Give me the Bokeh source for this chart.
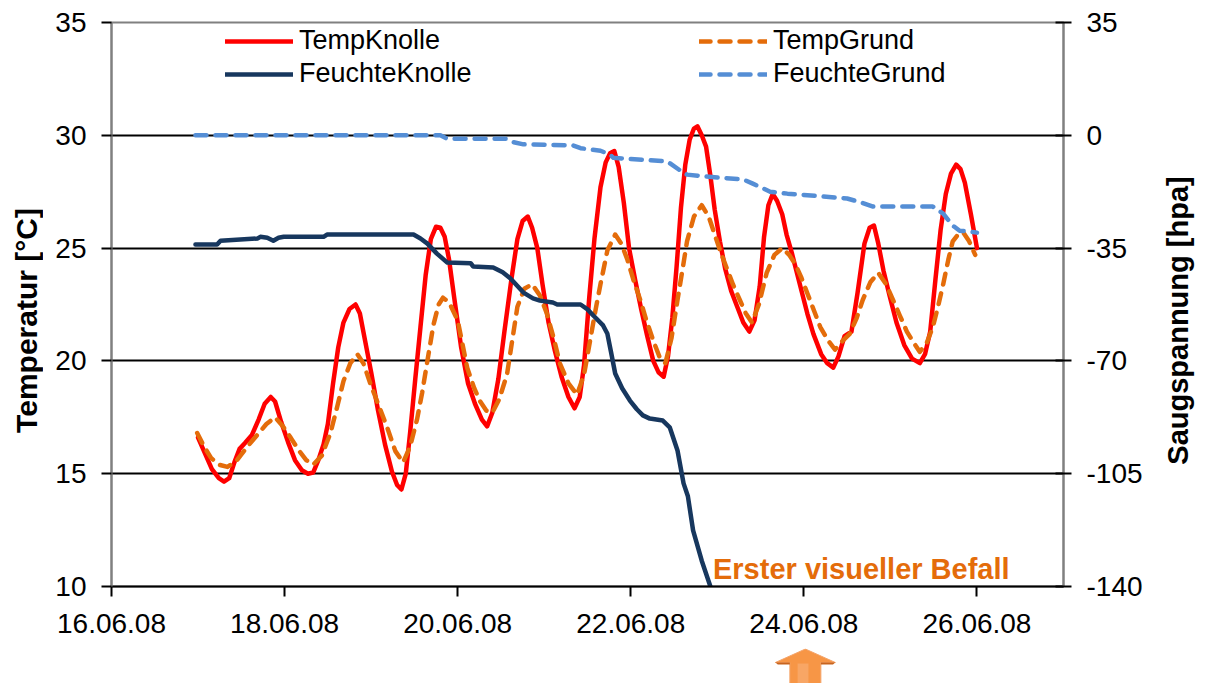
import math
import pandas as pd
from bokeh.plotting import figure
from bokeh.layouts import column, row
from bokeh.core.properties import value
from bokeh.models import (Range1d, LinearAxis, FixedTicker, DatetimeTickFormatter,
                          Legend, LegendItem)
from bokeh.embed import file_html
from bokeh.resources import INLINE

# ---------------- data (days since 16.06.08 00:00, value) ----------------
START = "2008-06-16"

temp_knolle = [
    (1.00, 16.6), (1.08, 15.9), (1.16, 15.2), (1.24, 14.8), (1.30, 14.65), (1.36, 14.8),
    (1.42, 15.5), (1.48, 16.1), (1.54, 16.35), (1.62, 16.7), (1.70, 17.4), (1.77, 18.1),
    (1.84, 18.4), (1.89, 18.2), (1.96, 17.3), (2.04, 16.4), (2.12, 15.6), (2.20, 15.15),
    (2.27, 15.0), (2.33, 15.05), (2.39, 15.6), (2.45, 16.3), (2.50, 17.2), (2.56, 19.0),
    (2.62, 20.6), (2.68, 21.7), (2.75, 22.3), (2.82, 22.5), (2.87, 22.1), (2.93, 20.9),
    (3.00, 19.5), (3.08, 17.8), (3.16, 16.3), (3.24, 15.1), (3.30, 14.5), (3.35, 14.3),
    (3.40, 15.0), (3.45, 16.8), (3.51, 19.2), (3.57, 21.5), (3.63, 23.8), (3.69, 25.4),
    (3.75, 25.95), (3.80, 25.9), (3.85, 25.5), (3.90, 24.5), (3.96, 22.8), (4.04, 20.6),
    (4.12, 19.0), (4.20, 18.1), (4.28, 17.4), (4.34, 17.1), (4.40, 17.7), (4.47, 19.2),
    (4.54, 21.3), (4.62, 23.6), (4.69, 25.4), (4.75, 26.2), (4.81, 26.4), (4.86, 25.9),
    (4.92, 25.0), (4.98, 23.4), (5.05, 21.7), (5.12, 20.5), (5.20, 19.3), (5.28, 18.4),
    (5.35, 17.9), (5.41, 18.4), (5.46, 19.8), (5.52, 22.8), (5.58, 25.4), (5.65, 27.7),
    (5.71, 28.8), (5.76, 29.2), (5.81, 29.3), (5.86, 28.6), (5.92, 27.0), (5.98, 25.0),
    (6.05, 23.6), (6.12, 22.3), (6.19, 21.1), (6.26, 20.0), (6.32, 19.5), (6.38, 19.3),
    (6.43, 20.2), (6.48, 21.9), (6.53, 24.2), (6.58, 26.8), (6.63, 28.7), (6.68, 29.8),
    (6.73, 30.3), (6.77, 30.4), (6.82, 30.0), (6.87, 29.5), (6.92, 28.2), (6.97, 26.7),
    (7.03, 25.3), (7.09, 24.1), (7.16, 23.1), (7.23, 22.4), (7.30, 21.7), (7.37, 21.3),
    (7.43, 21.8), (7.49, 23.3), (7.54, 25.5), (7.59, 26.9), (7.64, 27.4), (7.69, 27.1),
    (7.75, 26.5), (7.80, 25.6), (7.86, 24.8), (7.96, 23.3), (8.04, 22.1), (8.11, 21.2),
    (8.20, 20.3), (8.27, 19.9), (8.34, 19.7), (8.40, 20.2), (8.47, 21.1), (8.55, 21.3),
    (8.62, 23.0), (8.70, 25.2), (8.76, 25.9), (8.81, 26.0), (8.86, 25.2), (8.92, 24.0),
    (8.99, 22.9), (9.07, 21.7), (9.16, 20.7), (9.25, 20.1), (9.34, 19.9), (9.40, 20.3),
    (9.46, 21.3), (9.52, 23.6), (9.58, 25.8), (9.64, 27.4), (9.70, 28.3), (9.76, 28.7),
    (9.81, 28.5), (9.86, 27.9), (9.93, 26.5), (10.00, 25.0),
]

temp_grund = [
    (0.99, 16.8), (1.07, 16.2), (1.15, 15.7), (1.24, 15.4), (1.34, 15.3), (1.45, 15.6),
    (1.57, 16.2), (1.68, 16.7), (1.79, 17.2), (1.89, 17.5), (1.98, 17.1), (2.07, 16.6),
    (2.17, 16.0), (2.25, 15.6), (2.33, 15.4), (2.43, 15.8), (2.53, 16.8), (2.61, 18.0),
    (2.68, 19.1), (2.76, 19.9), (2.84, 20.3), (2.91, 19.9), (2.99, 19.0), (3.09, 18.0),
    (3.19, 17.0), (3.28, 16.0), (3.37, 15.5), (3.45, 16.2), (3.53, 17.4), (3.59, 18.6),
    (3.65, 20.0), (3.72, 21.6), (3.78, 22.5), (3.83, 22.8), (3.90, 22.6), (4.00, 21.8),
    (4.11, 19.7), (4.19, 18.8), (4.26, 18.2), (4.33, 17.8), (4.40, 17.7), (4.48, 18.3),
    (4.57, 19.4), (4.63, 20.9), (4.69, 22.4), (4.77, 23.2), (4.86, 23.4), (4.95, 22.9),
    (5.03, 22.1), (5.11, 21.0), (5.18, 19.9), (5.28, 19.0), (5.38, 18.5), (5.46, 19.4),
    (5.53, 20.9), (5.59, 22.2), (5.65, 23.4), (5.73, 24.9), (5.82, 25.6), (5.89, 25.2),
    (5.96, 24.5), (6.03, 23.6), (6.11, 22.7), (6.18, 21.8), (6.26, 20.9), (6.33, 20.2),
    (6.40, 19.9), (6.47, 21.0), (6.54, 22.7), (6.60, 24.1), (6.65, 25.3), (6.73, 26.4),
    (6.82, 26.9), (6.90, 26.4), (6.97, 25.6), (7.04, 24.8), (7.11, 24.1), (7.18, 23.4),
    (7.26, 22.7), (7.33, 22.1), (7.40, 21.7), (7.48, 22.5), (7.57, 23.9), (7.66, 24.7),
    (7.75, 25.0), (7.83, 24.7), (7.90, 24.3), (7.97, 23.7), (8.04, 23.0), (8.12, 22.2),
    (8.19, 21.5), (8.28, 20.9), (8.36, 20.5), (8.45, 20.9), (8.53, 21.2), (8.61, 21.9),
    (8.68, 22.7), (8.77, 23.5), (8.86, 23.9), (8.95, 23.4), (9.03, 22.7), (9.11, 22.0),
    (9.19, 21.3), (9.27, 20.8), (9.34, 20.4), (9.42, 20.8), (9.49, 21.5), (9.55, 22.4),
    (9.61, 23.4), (9.67, 24.5), (9.72, 25.3), (9.78, 25.6), (9.84, 25.7), (9.91, 25.3),
    (9.98, 24.7),
]

feuchte_knolle = [  # hPa, right axis
    (0.97, -33.9), (1.22, -33.9), (1.26, -32.7), (1.69, -32.0), (1.72, -31.5), (1.80, -31.8),
    (1.87, -32.7), (1.93, -31.8), (1.99, -31.5), (2.45, -31.5), (2.49, -30.8), (3.49, -30.8),
    (3.57, -32.0), (3.65, -33.6), (3.76, -36.7), (3.88, -39.5), (4.15, -39.7), (4.18, -40.7),
    (4.41, -41.0), (4.52, -42.5), (4.61, -44.4), (4.76, -48.8), (4.87, -50.6), (4.95, -51.3),
    (5.10, -51.9), (5.15, -52.5), (5.42, -52.5), (5.50, -54.0), (5.57, -56.0), (5.68, -59.0),
    (5.73, -61.6), (5.77, -67.0), (5.82, -73.9), (5.90, -78.5), (5.99, -82.3), (6.07, -85.0),
    (6.14, -86.9), (6.22, -87.9), (6.37, -88.5), (6.45, -90.6), (6.54, -97.8), (6.61, -108.0),
    (6.66, -112.0), (6.72, -122.6), (6.82, -132.0), (6.92, -140.0),
]

feuchte_grund = [  # hPa, right axis
    (0.97, 0.0), (3.80, 0.0), (3.88, -1.1), (4.57, -1.1), (4.64, -2.1), (4.76, -2.8),
    (5.33, -3.1), (5.42, -4.0), (5.65, -4.8), (5.76, -6.0), (5.80, -7.0), (6.42, -8.1),
    (6.57, -10.9), (6.65, -12.2), (7.00, -13.1), (7.30, -13.7), (7.41, -15.0), (7.61, -17.5),
    (7.81, -18.1), (8.50, -19.6), (8.68, -21.0), (8.80, -22.1), (9.49, -22.1), (9.61, -24.3),
    (9.72, -28.0), (9.80, -29.6), (9.95, -30.0), (10.00, -30.2),
]

x_tick_dates = ["2008-06-16", "2008-06-18", "2008-06-20", "2008-06-22", "2008-06-24", "2008-06-26"]
x_end_date = "2008-06-27"
left_ticks = [10, 15, 20, 25, 30, 35]
grid_ticks = [15, 20, 25, 30]
right_ticks = [-140, -105, -70, -35, 0, 35]
left_title = "Temperatur [°C]"
right_title = "Saugspannung [hpa]"
befall_text = "Erster visueller Befall"
befall_date = "2008-06-24"       # date marked by the arrow
befall_text_day = 6.95           # days since start where the annotation text begins

# ---------------- helpers ----------------
def to_ms(ts):
    return pd.Timestamp(ts).timestamp() * 1000.0

start_ms = to_ms(START)
DAY_MS = 86400000.0

def split(series):
    xs = [start_ms + d * DAY_MS for d, _ in series]
    ys = [v for _, v in series]
    return xs, ys

FONT = "Liberation Sans"
FRAME_W, FRAME_H = 952, 564
TOP = 22
LEFT_TITLE_W = 43       # strip holding the left axis title
LEFT = 68               # left border of main plot (tick labels)
RIGHT = 95              # right border of main plot (tick labels)
RIGHT_TITLE_W = 40
px_unit = FRAME_H / 25.0
TITLE_Y = 35 - (320 - TOP) / px_unit   # vertical centre of the axis titles

yr = Range1d(10, 35)
xr = Range1d(start=to_ms(START), end=to_ms(x_end_date))

p = figure(frame_width=FRAME_W, frame_height=FRAME_H, output_backend="svg", toolbar_location=None,
           x_axis_type="datetime", x_range=xr, y_range=yr,
           min_border_left=LEFT, min_border_right=RIGHT, min_border_top=TOP, min_border_bottom=62)
p.extra_y_ranges = {"saug": Range1d(-140, 35)}
p.background_fill_color = "white"
p.border_fill_color = "white"
p.outline_line_color = "#808080"
p.outline_line_width = 2

# grids
p.xgrid.visible = False
p.ygrid.ticker = FixedTicker(ticks=grid_ticks)
p.ygrid.grid_line_color = "black"
p.ygrid.grid_line_width = 2

# x axis
xa = p.xaxis[0]
xa.ticker = FixedTicker(ticks=[to_ms(d) for d in x_tick_dates])
fmt = "%d.%m.%y"
xa.formatter = DatetimeTickFormatter(milliseconds=fmt, seconds=fmt, minsec=fmt, minutes=fmt,
                                     hourmin=fmt, hours=fmt, days=fmt, months=fmt, years=fmt)
xa.axis_line_color = "black"
xa.axis_line_width = 2
xa.major_tick_line_color = "black"
xa.major_tick_line_width = 2
xa.major_tick_in = 0
xa.major_tick_out = 10
xa.minor_tick_line_color = None
xa.major_label_text_font = FONT
xa.major_label_text_font_size = "28px"
xa.major_label_text_color = "black"
xa.major_label_standoff = 17

# left axis
ya = p.yaxis[0]
ya.ticker = FixedTicker(ticks=left_ticks)
ya.axis_line_color = "#808080"
ya.axis_line_width = 2
ya.major_tick_line_color = "black"
ya.major_tick_line_width = 2
ya.major_tick_in = 0
ya.major_tick_out = 10
ya.minor_tick_line_color = None
ya.major_label_text_font = FONT
ya.major_label_text_font_size = "28px"
ya.major_label_text_color = "black"
ya.major_label_standoff = 15

# right axis
ra = LinearAxis(y_range_name="saug", ticker=FixedTicker(ticks=right_ticks))
ra.major_label_overrides = {t: str(t) for t in right_ticks}
ra.axis_line_color = "#808080"
ra.axis_line_width = 2
ra.major_tick_line_color = "black"
ra.major_tick_line_width = 2
ra.major_tick_in = 8
ra.major_tick_out = 8
ra.minor_tick_line_color = None
ra.major_label_text_font = FONT
ra.major_label_text_font_size = "28px"
ra.major_label_text_color = "black"
ra.major_label_standoff = 15
p.add_layout(ra, "right")

# series
LW = 4.5
x, y = split(temp_knolle)
r_tk = p.line(x, y, line_color="#FF0000", line_width=LW, line_join="round", line_cap="round")
x, y = split(temp_grund)
r_tg = p.line(x, y, line_color="#E46C0A", line_width=LW, line_dash="11 9",
              line_join="round", line_cap="round")
x, y = split(feuchte_knolle)
r_fk = p.line(x, y, y_range_name="saug", line_color="#17375E", line_width=LW,
              line_join="round", line_cap="round")
x, y = split(feuchte_grund)
r_fg = p.line(x, y, y_range_name="saug", line_color="#558ED5", line_width=LW,
              line_dash="11 9", line_join="round", line_cap="round")

# legends (two columns)
def make_legend(items, loc):
    lg = Legend(items=items, location=loc, orientation="vertical",
                glyph_width=68, glyph_height=28, label_height=28, label_standoff=6,
                spacing=2, padding=0, margin=0,
                border_line_alpha=0, background_fill_alpha=0,
                label_text_font=FONT, label_text_font_size="27px", label_text_color="black")
    p.add_layout(lg)

make_legend([LegendItem(label="TempKnolle", renderers=[r_tk]),
             LegendItem(label="FeuchteKnolle", renderers=[r_fk])], (114, 497))
make_legend([LegendItem(label="TempGrund", renderers=[r_tg]),
             LegendItem(label="FeuchteGrund", renderers=[r_fg])], (588, 497))

# annotation text, sitting just above the x axis
p.text(x=[start_ms + befall_text_day * DAY_MS], y=[10 + 18 / px_unit], text=[befall_text],
       text_font=value(FONT), text_font_style="bold", text_font_size="29px",
       text_color="#E46C0A", text_align="left", text_baseline="alphabetic")

# ---------------- axis title strips ----------------
def title_strip(width, text, cx, size):
    f = figure(frame_width=width, frame_height=FRAME_H, output_backend="svg", toolbar_location=None,
               x_range=Range1d(0, width), y_range=yr,
               x_axis_location=None, y_axis_location=None,
               min_border_left=0, min_border_right=0, min_border_top=TOP, min_border_bottom=0)
    f.outline_line_color = None
    f.grid.grid_line_color = None
    f.background_fill_color = "white"
    f.border_fill_color = "white"
    f.text(x=[cx], y=[TITLE_Y], text=[text], angle=math.pi / 2,
           text_font=value(FONT), text_font_style="bold", text_font_size=size,
           text_color="black", text_align="center", text_baseline="middle")
    return f

p_left = title_strip(LEFT_TITLE_W, left_title, 25.5, "30px")
p_right = title_strip(RIGHT_TITLE_W, right_title, 19.5, "29px")

# ---------------- arrow strip below the x axis ----------------
ARROW_H = 35
p2 = figure(frame_width=FRAME_W, frame_height=ARROW_H, output_backend="svg", toolbar_location=None,
            x_range=xr, y_range=Range1d(0, ARROW_H),
            x_axis_location=None, y_axis_location=None,
            min_border_left=LEFT, min_border_right=0, min_border_top=0, min_border_bottom=0)
p2.outline_line_color = None
p2.grid.grid_line_color = None
p2.background_fill_color = "white"
p2.border_fill_color = "white"

px_day = FRAME_W / 11.0
cx = to_ms(befall_date) + (1.5 / px_day) * DAY_MS
head_half = 30.0 / px_day * DAY_MS
shaft_half = 15.5 / px_day * DAY_MS
y_tip = ARROW_H - 0.5
y_base = ARROW_H - 14
y_bot = 0
p2.patch([cx, cx + head_half, cx + shaft_half, cx + shaft_half, cx - shaft_half, cx - shaft_half, cx - head_half],
         [y_tip, y_base, y_base, y_bot, y_bot, y_base, y_base],
         fill_color="#F79646", line_color="#F4A46A", line_width=1)
p2.patch([cx + shaft_half, cx + head_half, cx + head_half * 0.92, cx + shaft_half],
         [y_base, y_base, y_base - 2, y_base - 2], fill_color="#C8641E", line_color=None)
p2.patch([cx - shaft_half, cx - head_half, cx - head_half * 0.92, cx - shaft_half],
         [y_base, y_base, y_base - 2, y_base - 2], fill_color="#C8641E", line_color=None)
p2.patch([cx - shaft_half * 0.5, cx + shaft_half * 0.2, cx + shaft_half * 0.2, cx - shaft_half * 0.5],
         [y_base - 1, y_base - 1, y_bot, y_bot], fill_color="#F9B07A", fill_alpha=0.6, line_color=None)

layout = row(p_left, column(p, p2, spacing=0), p_right, spacing=0)
open("out.html", "w").write(file_html(layout, INLINE))
